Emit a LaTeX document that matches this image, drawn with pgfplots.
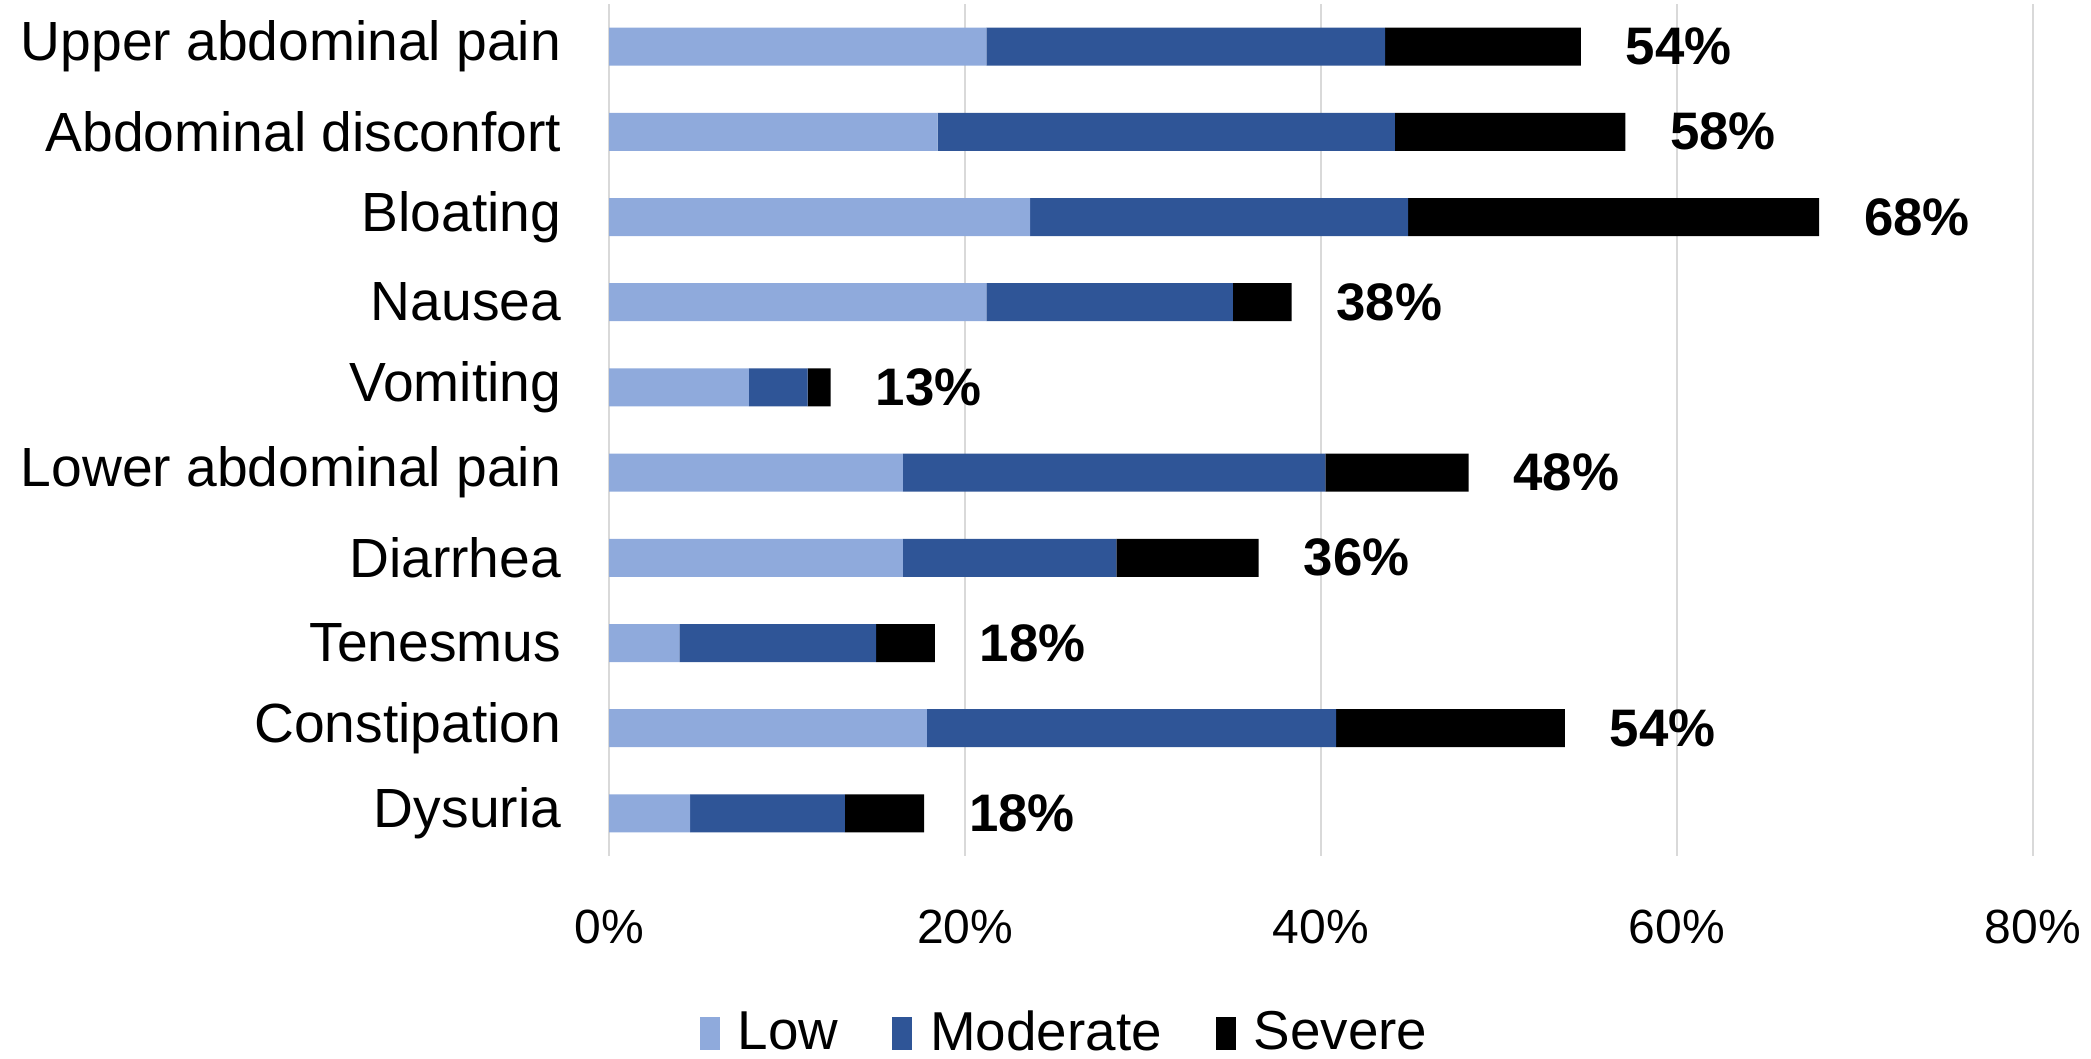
\documentclass[border=0pt]{standalone}
\usepackage{fontspec}
\setmainfont{Liberation Sans}
\usepackage{pgfplots}
\usepackage{pgfplotstable}
\pgfplotsset{compat=1.18}
\definecolor{lowc}{HTML}{8FAADC}
\definecolor{modc}{HTML}{2F5597}
\definecolor{gridc}{HTML}{D9D9D9}
\pgfplotstableread{
y low mod sev tot lab
0 21.2 22.4 11.0 54.6 54
1 18.45 25.7 12.95 57.1 58
2 23.65 21.25 23.1 68.0 68
3 21.2 13.85 3.3 38.35 38
4 7.85 3.3 1.3 12.45 13
5 16.5 23.75 8.05 48.3 48
6 16.5 12.0 8.0 36.5 36
7 3.95 11.05 3.3 18.3 18
8 17.85 23.0 12.85 53.7 54
9 4.55 8.7 4.45 17.7 18
}\data
\begin{document}
\begin{tikzpicture}
\pgfplotsset{common/.style={
  scale only axis,
  at={(0,0)}, anchor=south west,
  width=355.9pt, height=213pt,
  xmin=0, xmax=80,
  ymin=-0.5, ymax=9.5,
  y dir=reverse,
  /pgf/number format/assume math mode=true}}
\begin{axis}[
  common,
  xbar stacked,
  bar width=9.5pt,
  axis line style={draw=none},
  xmajorgrids, grid style={gridc, line width=0.6pt},
  xtick={0,20,40,60,80},
  xticklabel={\pgfmathprintnumber{\tick}\%},
  ytick={0,...,9},
  yticklabels={Upper abdominal pain, Abdominal disconfort, Bloating, Nausea, Vomiting, Lower abdominal pain, Diarrhea, Tenesmus, Constipation, Dysuria},
  major tick length=0pt,
  yticklabel style={font=\fontsize{13.8}{16}\selectfont, xshift=-8.5pt},
  xticklabel style={font=\fontsize{12}{14}\selectfont, yshift=-10pt},
  legend style={at={(0.322,-0.2085)}, anchor=center, draw=none, fill=none,
    font=\fontsize{13.7}{16}\selectfont, legend columns=-1,
    /tikz/every odd column/.append style={column sep=2.5pt},
    /tikz/every even column/.append style={column sep=11.5pt}},
  legend image code/.code={\fill[#1] (0pt,-4.2pt) rectangle (5pt,4.2pt);},
]
\addplot[fill=lowc, draw=none] table[x=low, y=y] {\data};
\addlegendentry{Low}
\addplot[fill=modc, draw=none] table[x=mod, y=y] {\data};
\addlegendentry{Moderate}
\addplot[fill=black, draw=none] table[x=sev, y=y] {\data};
\addlegendentry{Severe}
\end{axis}
\begin{axis}[common, hide axis, clip=false]
\addplot[draw=none, mark=none,
  point meta=explicit,
  nodes near coords={\pgfmathprintnumber{\pgfplotspointmeta}\%},
  every node near coord/.append style={anchor=west, xshift=7.7pt, text=black,
    font=\bfseries\fontsize{13.2}{15}\selectfont},
  ] table[x=tot, y=y, meta=lab] {\data};
\end{axis}
\pgfresetboundingbox
\path (-152.3pt,-50.75pt) rectangle (370.45pt,214pt);
\end{tikzpicture}
\end{document}
